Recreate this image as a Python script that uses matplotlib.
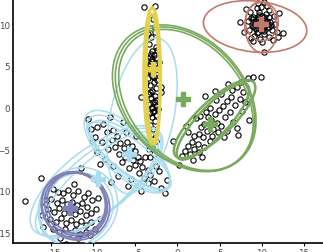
import matplotlib
matplotlib.use("Agg")
import matplotlib.pyplot as plt
from matplotlib.patches import Ellipse

# observed points, grouped by the cluster they sit in
red_x = [9.5, 10.1, 9.8, 10.4, 9.2, 10.0, 9.6, 10.6, 9.3, 10.2, 9.0, 10.8, 9.7, 10.5, 8.8, 11.0,
         9.4, 10.3, 8.9, 11.2, 9.9, 10.6, 8.6, 11.4, 9.1, 10.8, 8.5, 11.6, 9.8, 10.2, 8.3, 11.8,
         7.4, 12.5, 10.2, 8.9, 11.3, 9.6, 8.1, 12.0, 7.9, 10.0, 11.9, 9.4, 10.9, 8.7,
         9.9, 10.3, 9.5, 10.7, 9.1, 10.0, 9.7, 10.4, 9.3, 10.9, 9.6, 10.2, 8.7, 11.1, 9.0, 10.6]
red_y = [10.2, 10.5, 9.6, 9.9, 10.0, 11.0, 10.8, 10.4, 9.4, 9.2, 10.6, 9.7, 11.4, 11.2, 9.9, 10.3,
         8.9, 8.8, 10.9, 9.3, 12.0, 12.2, 11.5, 11.0, 8.6, 8.5, 9.3, 10.0, 8.2, 12.6, 10.4, 9.0,
         10.3, 8.9, 6.7, 8.0, 8.1, 12.5, 11.8, 11.3, 9.1, 7.8, 8.4, 11.9, 11.7, 8.3,
         10.0, 10.9, 10.6, 10.0, 9.7, 9.3, 11.1, 10.3, 10.4, 10.8, 9.1, 9.6, 10.7, 9.9, 9.8, 9.5]

yel_x = [-4.0, -2.65, -2.9, -3.3, -2.7, -3.1, -3.4, -2.6, -3.0, -2.8, -3.3, -2.5, -3.1, -2.7, -3.4,
         -2.9, -3.2, -2.6, -3.0, -3.5, -2.4, -2.8, -3.2, -2.6, -3.0, -3.4, -2.7, -3.1, -2.9, -3.3,
         -2.6, -3.0, -2.8, -3.2, -2.5, -3.0, -2.7, -3.3, -2.9, -3.1, -2.6, -3.0, -2.8, -3.2, -4.3,
         -1.9, -2.2, -3.7, -2.3, -3.6, -2.0, -2.4, -3.5, -2.3, -3.6, -2.9, -3.4,
         -3.0, -2.7, -3.2, -2.8, -3.1, -2.6, -3.3, -2.9, -3.0, -2.7]
yel_y = [12.1, 12.2, 10.6, 9.5, 9.1, 8.4, 7.6, 7.3, 6.8, 6.3, 6.1, 5.9, 5.6, 5.3, 5.0,
         4.8, 4.4, 4.1, 3.8, 3.5, 3.3, 3.0, 2.7, 2.3, 2.0, 1.6, 1.4, 1.1, 0.7, 0.4,
         0.2, -0.1, -0.4, -0.7, -0.9, -1.2, -1.6, -2.1, -2.6, -3.3, -4.0, -4.7, -5.6, -6.0, 1.3,
         2.4, 5.5, 2.9, -0.2, -1.0, 1.8, 6.9, 8.8, 4.6, 4.2, -3.8, -5.0,
         5.8, 4.5, 5.2, 3.6, 6.4, 0.9, 1.9, -0.6, 0.0, 0.6]

grn_x = [8.3, 9.0, 9.9, 3.3, 4.5, 7.0, 6.3, 7.4, 6.8, 8.0, 7.6, 5.9, 5.4, 6.2, 4.9, 5.6, 4.4, 4.0,
         4.7, 3.6, 3.2, 4.2, 3.5, 2.8, 5.2, 4.8, 2.5, 3.0, 2.0, 1.7, 2.4, 1.2, 1.9, 0.9, 2.6, 1.5,
         0.5, 3.1, 5.9, 6.6, 7.1, 2.2, 1.3, 3.8, 4.6, 5.1, 6.5, 7.8, 8.5, 7.2, 1.8, 0.2, 2.9, 3.9,
         5.5, 6.0, 7.5, 4.1, 3.4, 2.7, 1.0, -0.5]
grn_y = [3.5, 3.6, 3.7, 1.4, 2.0, 2.4, 1.3, 1.0, 0.3, 0.6, -0.4, 0.8, 0.2, -0.6, -0.3, -1.1, -0.8, -1.5,
         -1.9, -1.2, -2.0, -2.6, -2.8, -2.4, -2.2, -3.0, -3.2, -3.6, -3.4, -4.2, -4.4, -4.6, -5.0, -5.2, -5.3, -5.6,
         -5.8, -4.8, -2.8, -1.8, -2.5, -1.3, -3.0, -0.1, 0.9, 1.6, 2.1, 1.8, -1.5, -3.3, -6.3, -6.9, -6.0, -4.0,
         -3.6, 2.8, 3.0, -3.4, -0.5, -1.0, -2.2, -4.0]

blu_x = [-10.6, -9.5, -8.8, -9.8, -8.4, -7.6, -8.9, -7.8, -7.2, -6.8, -8.2, -7.4, -6.4, -6.0, -5.4,
         -6.9, -6.2, -5.6, -5.0, -4.7, -5.3, -6.6, -4.4, -5.0, -4.2, -5.8, -3.8, -3.5, -4.6, -3.2,
         -4.0, -2.8, -3.5, -2.0, -2.6, -9.6, -8.6, -7.6, -10.1, -6.1, -4.9, -3.2, -7.0, -5.5, -2.2,
         -9.2, -1.5, -4.3, -8.0, -10.3, -6.5, -2.4, -7.9, -5.9, -1.3]
blu_y = [-1.4, -2.3, -2.0, -3.5, -3.0, -2.7, -4.2, -3.9, -3.4, -4.3, -5.0, -4.8, -4.9, -4.1, -4.6,
         -5.6, -5.9, -5.4, -5.2, -5.9, -6.3, -6.5, -6.4, -6.9, -7.1, -7.2, -6.0, -7.5, -7.8, -8.1,
         -8.5, -8.8, -9.0, -9.6, -7.0, -5.4, -6.2, -7.0, -4.0, -2.9, -3.4, -4.6, -8.2, -8.6, -7.6,
         -6.8, -10.3, -10.0, -1.2, -2.6, -1.8, -5.3, -8.9, -9.4, -8.7]

pur_x = [-18.1, -16.2, -11.4, -13.2, -14.8, -14.2, -13.6, -13.0, -12.4, -11.8, -11.1, -10.6, -15.0,
         -14.3, -13.7, -13.1, -12.5, -11.9, -11.3, -10.7, -10.1, -15.3, -14.6, -14.0, -13.4, -12.8,
         -12.1, -11.5, -10.9, -10.3, -9.7, -15.1, -14.4, -13.8, -13.2, -12.6, -12.0, -11.4, -10.8,
         -10.2, -14.7, -14.0, -13.3, -12.7, -12.1, -11.5, -10.9, -10.4, -16.1, -15.8, -9.4, -9.2,
         -14.6, -12.3, -13.9, -11.8, -16.0, -9.8, -15.6]
pur_y = [-11.2, -8.5, -7.3, -16.4, -9.8, -10.1, -10.3, -9.9, -10.5, -10.0, -10.7, -10.2, -11.0,
         -11.4, -11.1, -11.6, -11.3, -11.7, -11.4, -11.9, -11.1, -12.2, -12.5, -12.1, -12.7, -12.3,
         -12.8, -12.4, -12.9, -12.6, -12.2, -13.4, -13.7, -13.2, -13.9, -13.5, -14.0, -13.6, -14.1,
         -13.7, -14.6, -14.9, -14.6, -15.0, -14.7, -15.2, -14.9, -15.3, -12.9, -10.6, -10.8, -13.4,
         -8.7, -9.2, -15.6, -15.7, -14.3, -14.6, -11.6]

# fitted components: centre x, centre y, width, height, angle (deg)
red_ell = [(9.2, 9.7, 12.3, 6.1, -6), (9.9, 9.6, 3.8, 6.1, 4), (10.0, 10.3, 3.9, 4.6, 0)]
yel_ell = [(-3.0, 3.8, 2.0, 16.3, 0), (-2.9, 3.4, 1.6, 15.6, 1)]
grn_ell = [(4.4, -1.4, 12.8, 4.2, 44), (4.2, -1.7, 12.0, 3.6, 47),
           (0.9, 1.0, 19.4, 14.0, -49), (1.0, 0.9, 19.0, 13.4, -50), (0.8, 1.1, 19.8, 14.4, -48)]
blu_ell = [(-9.4, -9.0, 18.5, 7.0, 40), (-9.2, -9.3, 17.8, 6.2, 42), (-9.6, -8.8, 19.0, 7.8, 38),
           (-11.8, -12.0, 10.0, 9.0, 50), (-12.0, -12.2, 9.2, 8.2, 45),
           (-5.8, -5.5, 12.5, 5.0, -42), (-5.6, -5.7, 11.8, 4.4, -40), (-6.0, -5.3, 13.0, 5.6, -44),
           (-5.7, -5.8, 12.2, 3.8, -38), (-4.2, -1.0, 19.0, 7.5, 78)]
pur_ell = [(-12.1, -11.6, 7.2, 7.7, 30), (-12.2, -11.7, 7.6, 8.1, 35),
           (-12.0, -11.5, 6.8, 7.4, 25), (-12.1, -11.8, 7.9, 8.4, 40)]

# component means
red_mx, red_my = [9.9], [10.0]
yel_mx, yel_my = [-2.9], [4.6]
grn_mx, grn_my = [3.9, 0.7], [-2.0, 1.0]
blu_mx, blu_my = [-5.8, -9.4], [-5.6, -8.6]
pur_mx, pur_my = [-12.7], [-12.0]

RED = '#c27a6e'
YEL = '#e2d04f'
GRN = '#79a95c'
BLU = '#a9dcef'
PUR = '#8181b9'

fig = plt.figure(figsize=(3.23, 2.53), dpi=100)
ax = fig.add_axes([13 / 323, 9 / 253, 310 / 323, 244 / 253])

for xs, ys in [(red_x, red_y), (yel_x, yel_y), (grn_x, grn_y), (blu_x, blu_y), (pur_x, pur_y)]:
    ax.plot(xs, ys, 'o', ms=3.8, mfc='none', mec='black', mew=0.8, zorder=2)

groups = [(blu_ell, BLU, 1.1), (pur_ell, PUR, 1.3), (grn_ell, GRN, 1.2),
          (yel_ell, YEL, 2.2), (red_ell, RED, 1.2)]
for ells, col, lw in groups:
    for i, (cx, cy, w, h, a) in enumerate(ells):
        lwi = lw
        if col == GRN and i < 2:
            lwi = 1.8
        ax.add_patch(Ellipse((cx, cy), w, h, angle=a, fill=False, ec=col, lw=lwi, zorder=3))

for mx, my, col in [(blu_mx, blu_my, BLU), (pur_mx, pur_my, PUR), (grn_mx, grn_my, GRN),
                    (yel_mx, yel_my, YEL), (red_mx, red_my, RED)]:
    ax.plot(mx, my, 'P', ms=10.5, color=col, mec=col, zorder=4)

ax.set_xlim(-19.5, 17.25)
ax.set_ylim(-16.25, 13.0)
ax.set_xticks([-15, -10, -5, 0, 5, 10, 15])
ax.set_yticks([-15, -10, -5, 0, 5, 10])
ax.spines['top'].set_visible(False)
ax.spines['right'].set_visible(False)
for s in ['left', 'bottom']:
    ax.spines[s].set_linewidth(1.2)
ax.tick_params(axis='x', length=2.5, width=0.8, pad=1, labelsize=6.3, labelcolor='#4a4a4a')
ax.tick_params(axis='y', length=0, pad=2, labelsize=6.3, labelcolor='#4a4a4a')

fig.savefig('out.png', dpi=100)
